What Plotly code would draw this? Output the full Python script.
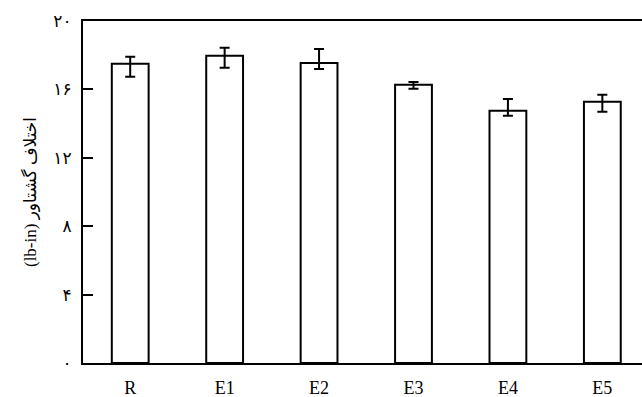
import plotly.graph_objects as go

categories = ["R", "E1", "E2", "E3", "E4", "E5"]
values = [17.50, 17.97, 17.55, 16.27, 14.75, 15.28]
err_plus = [0.41, 0.47, 0.81, 0.16, 0.69, 0.41]
err_minus = [0.76, 0.70, 0.36, 0.23, 0.29, 0.58]
y_ticks = [0, 4, 8, 12, 16, 20]
y_tick_labels = ["۰", "۴", "۸", "۱۲", "۱۶", "۲۰"]
y_title = "(lb-in) اختلاف گشتاور"

fig = go.Figure()
fig.add_trace(go.Bar(
    x=list(range(len(categories))),
    y=values,
    width=0.39,
    marker=dict(color="white", line=dict(color="black", width=2)),
    error_y=dict(type="data", symmetric=False, array=err_plus, arrayminus=err_minus,
                 color="black", thickness=2, width=5),
))

fig.update_layout(
    width=642, height=397,
    margin=dict(l=83, r=0, t=21, b=34),
    paper_bgcolor="white", plot_bgcolor="white",
    showlegend=False,
    font=dict(family="Liberation Serif, DejaVu Sans", color="black"),
    xaxis=dict(
        range=[-0.5, 5.42],
        tickmode="array", tickvals=list(range(len(categories))), ticktext=categories,
        showline=True, linecolor="black", linewidth=2, mirror=True,
        showgrid=False, zeroline=False, ticks="",
        tickfont=dict(size=18, family="Liberation Serif"),
        ticklabelstandoff=7,
    ),
    yaxis=dict(
        range=[0, 20],
        tickmode="array", tickvals=y_ticks, ticktext=y_tick_labels,
        showline=True, linecolor="black", linewidth=2,
        showgrid=False, zeroline=False,
        ticks="inside", ticklen=10, tickwidth=2, tickcolor="black",
        tickfont=dict(size=17, family="DejaVu Sans"),
        ticklabelstandoff=6,
        title=dict(text=y_title, font=dict(size=17, family="Liberation Serif, DejaVu Sans"), standoff=12),
    ),
)

fig.write_html("out.html", config={"displayModeBar": False},
               post_script="document.body.style.margin='0';document.body.style.overflow='hidden';")
